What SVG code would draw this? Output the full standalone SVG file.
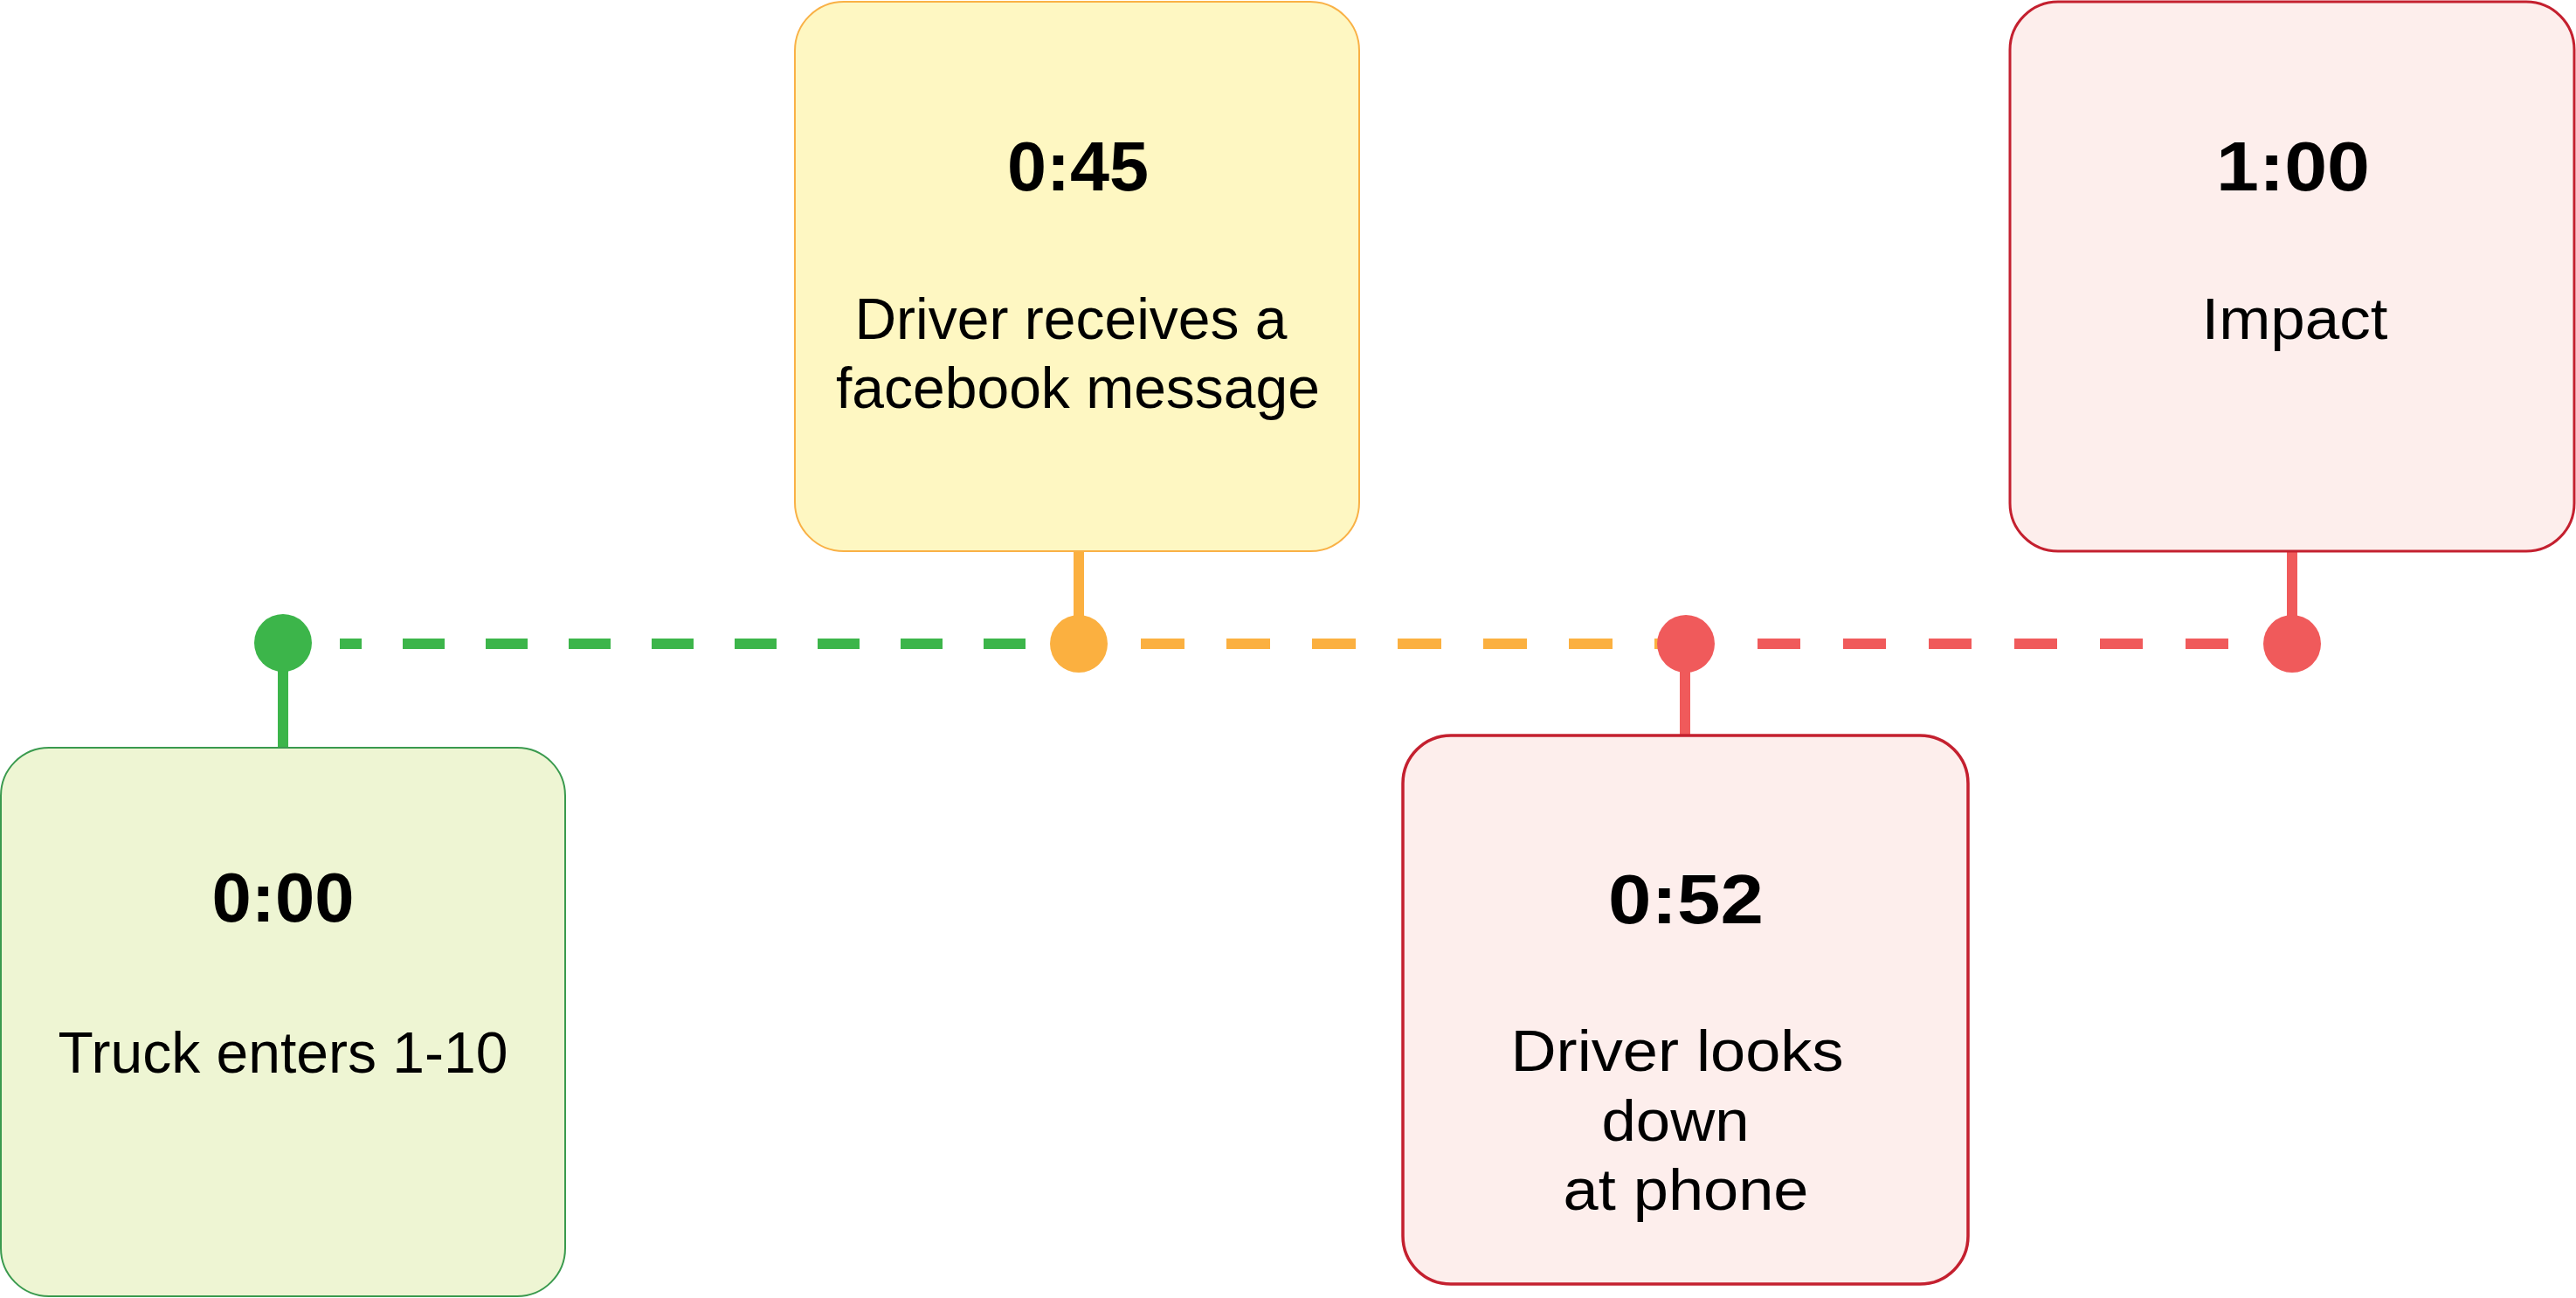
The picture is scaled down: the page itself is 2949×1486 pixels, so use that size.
<svg xmlns="http://www.w3.org/2000/svg" width="2949" height="1486" viewBox="0 0 2949 1486">
  <style>
    .t { font-family: "Liberation Sans", Arial, Helvetica, sans-serif; text-anchor: middle; fill: #000; }
    .h { font-size: 80px; font-weight: bold; }
    .b { font-size: 66px; }
    .dash { fill: none; stroke-width: 12; }
    .stem { stroke-width: 12; }
  </style>
  <rect width="2949" height="1486" fill="#ffffff"/>
  <g id="connectors">
    <line class="dash" x1="389" y1="737" x2="1202" y2="737" stroke="#3CB54A" stroke-dasharray="48 47" stroke-dashoffset="23"/>
    <line class="dash" x1="1306" y1="737" x2="1920" y2="737" stroke="#FBB040" stroke-dasharray="50 48"/>
    <line class="dash" x1="2012" y1="737" x2="2560" y2="737" stroke="#F05A5B" stroke-dasharray="49 49"/>
    <line class="stem" x1="324" y1="737" x2="324" y2="856" stroke="#3CB54A"/>
    <line class="stem" x1="1235" y1="631" x2="1235" y2="737" stroke="#FBB040"/>
    <line class="stem" x1="1929" y1="737" x2="1929" y2="842" stroke="#F05A5B"/>
    <line class="stem" x1="2624" y1="631" x2="2624" y2="737" stroke="#F05A5B"/>
    <circle cx="324" cy="736" r="33" fill="#3CB54A"/>
    <circle cx="1235" cy="737" r="33" fill="#FBB040"/>
    <circle cx="1930" cy="737" r="33" fill="#F05A5B"/>
    <circle cx="2624" cy="737" r="33" fill="#F05A5B"/>
  </g>
  <g id="node-0-00">
    <rect x="1" y="856" width="646" height="628" rx="55" fill="#EEF5D3" stroke="#3A9A4E" stroke-width="2"/>
    <text class="t h" x="324" y="1055" textLength="163" lengthAdjust="spacingAndGlyphs">0:00</text>
    <text class="t b" x="324" y="1228">Truck enters 1-10</text>
  </g>
  <g id="node-0-45">
    <rect x="910" y="2" width="646" height="629" rx="56" fill="#FEF7C2" stroke="#F9B146" stroke-width="2"/>
    <text class="t h" x="1234" y="218" textLength="162" lengthAdjust="spacingAndGlyphs">0:45</text>
    <text class="t b" x="1226" y="388">Driver receives a</text>
    <text class="t b" x="1234" y="467">facebook message</text>
  </g>
  <g id="node-0-52">
    <rect x="1606" y="842" width="647" height="628" rx="55" fill="#FDEEEC" stroke="#C4202F" stroke-width="3.5"/>
    <text class="t h" x="1930" y="1057" textLength="178" lengthAdjust="spacingAndGlyphs">0:52</text>
    <text class="t b" x="1920" y="1226" textLength="381" lengthAdjust="spacingAndGlyphs">Driver looks</text>
    <text class="t b" x="1918" y="1306" textLength="169" lengthAdjust="spacingAndGlyphs">down</text>
    <text class="t b" x="1930" y="1385" textLength="281" lengthAdjust="spacingAndGlyphs">at phone</text>
  </g>
  <g id="node-1-00">
    <rect x="2301" y="2" width="646" height="629" rx="55" fill="#FDEEEC" stroke="#C4202F" stroke-width="3"/>
    <text class="t h" x="2625" y="218" textLength="176" lengthAdjust="spacingAndGlyphs">1:00</text>
    <text class="t b" x="2627" y="388" textLength="213" lengthAdjust="spacingAndGlyphs">Impact</text>
  </g>
</svg>
